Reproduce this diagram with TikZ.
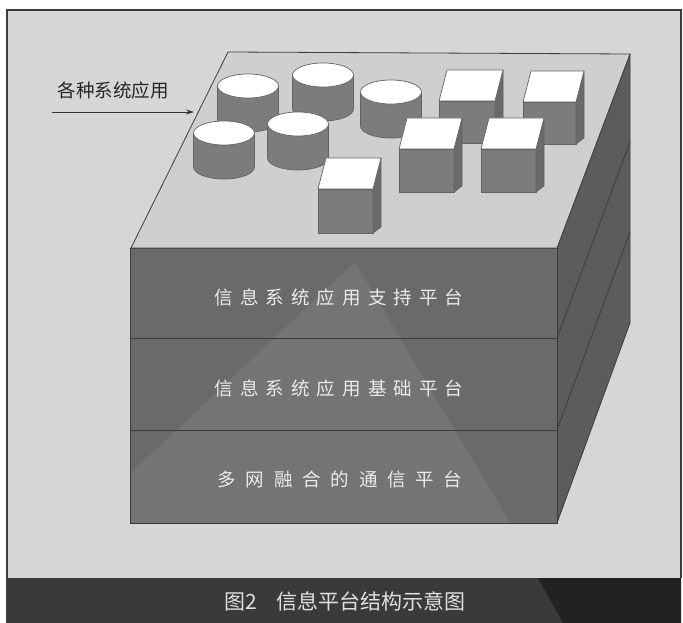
\documentclass[tikz,border=0pt]{standalone}
\usepackage{fontspec}
\usetikzlibrary{arrows.meta}
\newfontfamily\cjk{Noto Sans CJK SC}
\newfontfamily\cjksp[LetterSpace=38]{Noto Sans CJK SC}
\newfontfamily\cjkwide[LetterSpace=53]{Noto Sans CJK SC}
\definecolor{bggray}{HTML}{D6D6D6}
\definecolor{plategray}{HTML}{CFCFCF}
\definecolor{frontgray}{HTML}{6A6A6A}
\definecolor{sidegray}{HTML}{5C5C5C}
\definecolor{edgegray}{HTML}{3C3C3C}
\definecolor{objgray}{HTML}{7C7C7C}
\definecolor{objside}{HTML}{6A6A6A}
\definecolor{bandgray}{HTML}{3A3A3A}
\definecolor{banddark}{HTML}{222222}
\tikzset{
  edge/.style={draw=edgegray, line width=0.8pt, line join=round},
  cylside/.style={fill=objgray, draw=edgegray!80, line width=0.7pt},
  cyltop/.style={fill=white, draw=edgegray!80, line width=0.7pt},
  cubetop/.style={fill=white, draw=edgegray!80, line width=0.7pt, line join=round},
  cubefront/.style={fill=objgray, draw=edgegray!80, line width=0.7pt},
  cubeside/.style={fill=objside, draw=edgegray!80, line width=0.7pt, line join=round},
  layertext/.style={font=\cjksp\fontsize{18.5}{18.5}\selectfont, text=white!92!black, inner sep=0pt},
  layerwide/.style={font=\cjkwide\fontsize{18.5}{18.5}\selectfont, text=white!92!black, inner sep=0pt},
  apptext/.style={font=\cjk\fontsize{18.5}{18.5}\selectfont, text=black!85, inner sep=0pt},
  captiontext/.style={font=\cjk\fontsize{21}{21}\selectfont, text=white!88!black, inner sep=0pt},
}
\newcommand\mycyl[2]{%
  \path[cylside] (#1-30.5,#2) -- ++(0,34) arc (180:0:30.5 and 12) -- ++(0,-34) -- cycle;
  \path[cyltop] (#1,#2) ellipse (30.5 and 12);}
% front top-left x, y, width, height
\newcommand\mycube[4]{%
  \path[cubefront] (#1,#2) rectangle (#1+#3,#2+#4);
  \path[cubeside] (#1+#3,#2) -- (#1+#3+8,#2-31) -- (#1+#3+8,#2+#4-6) -- (#1+#3,#2+#4) -- cycle;
  \path[cubetop] (#1,#2) -- (#1+8,#2-31) -- (#1+#3+8,#2-31) -- (#1+#3,#2) -- cycle;}
\begin{document}
\begin{tikzpicture}[x=1pt,y=-1pt]
\useasboundingbox (0,0) rectangle (683,623);
\fill[white] (0,0) rectangle (683,623);
% background and frame
\fill[bggray] (7,10) rectangle (681,578);
\fill[bandgray] (7,578) rectangle (681,623);
\fill[banddark] (538,578) -- (681,578) -- (681,623) -- (563,623) -- cycle;
\draw[edgegray, line width=1.2pt] (7,623) -- (7,10) -- (681,10) -- (681,578);
% right face
\path[edge, fill=sidegray] (557,248) -- (630,54) -- (630,323) -- (557,523) -- cycle;
\draw[edge] (557,338) -- (630,142);
\draw[edge] (557,430) -- (630,232);
% front face
\path[edge, fill=frontgray] (130,248) rectangle (557,523);
\begin{scope}
  \clip (130,248) rectangle (557,523);
  \fill[white, opacity=0.07] (355,262) -- (60,540) -- (520,540) -- cycle;
\end{scope}
\draw[edge] (130,248) rectangle (557,523);
\draw[edge] (130,338) -- (557,338);
\draw[edge] (130,430) -- (557,430);
% top plate
\path[edge, fill=plategray] (228,52) -- (630,54) -- (557,248) -- (131,248) -- cycle;
% cylinders (back to front)
\mycyl{323}{75}
\mycyl{248}{86}
\mycyl{391}{92}
\mycyl{298}{124}
\mycyl{224}{133}
% cubes (back to front)
\mycube{439}{101}{56}{42}
\mycube{523}{102}{53}{42}
\mycube{399}{149}{55}{43}
\mycube{481}{149}{55}{43}
\mycube{318}{189}{55}{44}
% labels
\node[apptext] (apps) at (113,90) {各种系统应用};
\coordinate (arrowS) at (52,112);
\coordinate (arrowE) at (194,112);
\draw[black!80, line width=0.8pt, -{Stealth[length=8pt,width=5pt]}] (arrowS) -- (arrowE);
\node[layertext] (layer1) at (339,297) {信息系统应用支持平台};
\node[layertext] (layer2) at (339,388) {信息系统应用基础平台};
\node[layerwide] (layer3) at (340,479) {多网融合的通信平台};
\node[captiontext] (caption) at (345,601) {图2\hspace{0.9em}信息平台结构示意图};
\end{tikzpicture}
\end{document}
